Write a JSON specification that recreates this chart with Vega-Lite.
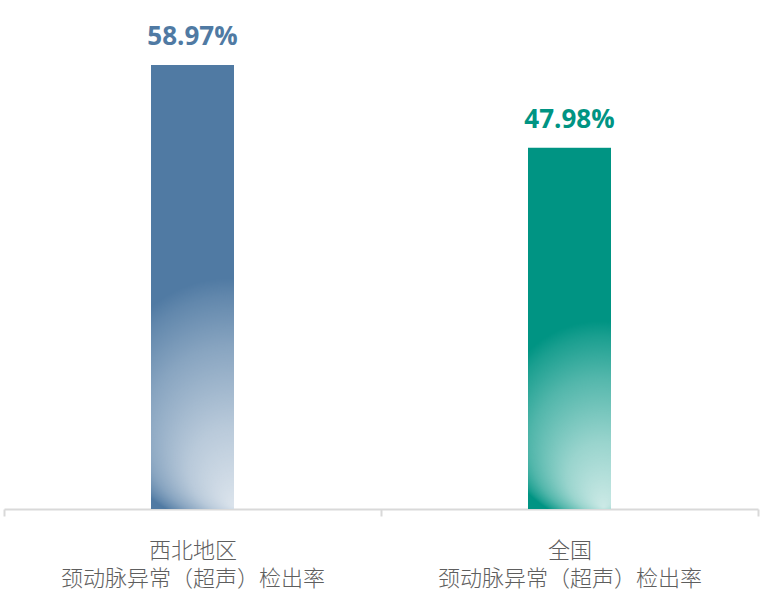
{
  "$schema": "https://vega.github.io/schema/vega-lite/v6.json",
  "width": 754,
  "height": 509,
  "autosize": {"type": "none"},
  "padding": {"left": 4, "top": 0, "right": 3, "bottom": 106},
  "background": "#ffffff",
  "config": {"view": {"stroke": null}},
  "data": {
    "values": [
      {"category": "西北地区|颈动脉异常（超声）检出率", "region": "西北地区", "value": 58.97, "text": "58.97%"},
      {"category": "全国|颈动脉异常（超声）检出率", "region": "全国", "value": 47.98, "text": "47.98%"}
    ]
  },
  "encoding": {
    "x": {
      "field": "category",
      "type": "nominal",
      "sort": null,
      "scale": {"paddingInner": 0, "paddingOuter": 0},
      "axis": {
        "title": null,
        "labelAngle": 0,
        "labelExpr": "split(datum.label, '|')",
        "labelFont": "Noto Sans CJK SC",
        "labelFontSize": 22,
        "labelFontWeight": 300,
        "labelColor": "#5e5e5e",
        "labelLineHeight": 28,
        "labelBaseline": "top",
        "labelPadding": 24,
        "labelLimit": 0,
        "tickBand": "extent",
        "tickSize": 7,
        "tickColor": "#d9d9d9",
        "tickWidth": 2,
        "domainColor": "#d9d9d9",
        "domainWidth": 2
      }
    },
    "y": {
      "field": "value",
      "type": "quantitative",
      "scale": {"domain": [0, 67.6], "nice": false},
      "axis": null
    }
  },
  "layer": [
    {
      "mark": {"type": "bar", "width": 83},
      "encoding": {
        "color": {
          "field": "region",
          "type": "nominal",
          "scale": {"domain": ["西北地区", "全国"], "range": ["#507aa3", "#009483"]},
          "legend": null
        }
      }
    },
    {
      "mark": {
        "type": "bar",
        "width": 83,
        "fill": {
          "gradient": "radial",
          "x1": 0.595, "y1": 0.995, "r1": 0,
          "x2": 0.585, "y2": 0.76, "r2": 0.28,
          "stops": [
            {"offset": 0, "color": "rgba(255,255,255,0.8)"},
            {"offset": 0.35, "color": "rgba(255,255,255,0.6)"},
            {"offset": 0.7, "color": "rgba(255,255,255,0.32)"},
            {"offset": 0.92, "color": "rgba(255,255,255,0.1)"},
            {"offset": 1, "color": "rgba(255,255,255,0)"}
          ]
        }
      }
    },
    {
      "mark": {
        "type": "text",
        "font": "Open Sans",
        "fontWeight": "bold",
        "fontSize": 26,
        "baseline": "alphabetic",
        "dy": -20
      },
      "encoding": {
        "text": {"field": "text"},
        "color": {
          "field": "region",
          "type": "nominal",
          "scale": {"domain": ["西北地区", "全国"], "range": ["#507aa3", "#009483"]},
          "legend": null
        }
      }
    }
  ]
}
